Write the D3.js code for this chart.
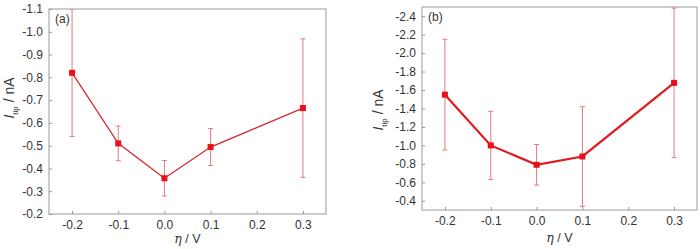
<!DOCTYPE html>
<html><head><meta charset="utf-8">
<script src="https://cdn.jsdelivr.net/npm/d3@7"></script>
<style>
html,body{margin:0;padding:0;background:#fff;}
svg{display:block;font-family:"Liberation Sans",Arial,sans-serif;}
</style></head>
<body><svg id="c" width="700" height="249"></svg>
<script>
const etaValues = [-0.2, -0.1, 0.0, 0.1, 0.3];
const currentA = [-0.82, -0.51, -0.357, -0.494, -0.665];
const errorA = [0.28, 0.076, 0.078, 0.081, 0.304];
const currentB = [-1.55, -1.0, -0.79, -0.88, -1.678];
const errorB = [0.6, 0.37, 0.22, 0.54, 0.81];
const xTicks = [-0.2, -0.1, 0.0, 0.1, 0.2, 0.3];
const yTicksA = [-1.1, -1.0, -0.9, -0.8, -0.7, -0.6, -0.5, -0.4, -0.3, -0.2];
const yTicksB = [-2.4, -2.2, -2.0, -1.8, -1.6, -1.4, -1.2, -1.0, -0.8, -0.6, -0.4];

const svg = d3.select("#c");
const fmt = d => (Math.abs(d) < 1e-9 ? 0 : d).toFixed(1);

function panel(cfg) {
  const x = d3.scaleLinear().domain([-0.25, 0.35]).range([cfg.left, cfg.right]);
  const y = d3.scaleLinear().domain(cfg.yDomain).range([cfg.bottom, cfg.top]);
  const g = svg.append("g");
  const clipId = "clip" + cfg.label;
  svg.append("clipPath").attr("id", clipId).append("rect")
    .attr("x", cfg.left).attr("y", cfg.top).attr("width", cfg.right - cfg.left).attr("height", cfg.bottom - cfg.top);

  const xa = g.append("g").attr("transform", `translate(0,${cfg.bottom})`)
    .call(d3.axisBottom(x).tickValues(xTicks).tickFormat(fmt).tickSizeInner(-3).tickSizeOuter(0).tickPadding(6));
  const ya = g.append("g").attr("transform", `translate(${cfg.left},0)`)
    .call(d3.axisLeft(y).tickValues(cfg.yTicks).tickFormat(fmt).tickSizeInner(-3).tickSizeOuter(0).tickPadding(6));
  [xa, ya].forEach(a => {
    a.select(".domain").remove();
    a.selectAll(".tick line").attr("stroke", "#999");
    a.selectAll(".tick text").attr("fill", "#333").style("font-size", "12px");
  });
  g.append("rect").attr("x", cfg.left).attr("y", cfg.top)
    .attr("width", cfg.right - cfg.left).attr("height", cfg.bottom - cfg.top)
    .attr("fill", "none").attr("stroke", "#9a9a9a").attr("stroke-width", 1);

  const data = etaValues.map((e, i) => ({e, v: cfg.values[i], err: cfg.errors[i]}));
  const plot = g.append("g").attr("clip-path", `url(#${clipId})`);
  const eb = plot.selectAll(".eb").data(data).enter().append("g").attr("stroke", "#e07c80").attr("stroke-width", 1);
  eb.append("line").attr("x1", d => x(d.e)).attr("x2", d => x(d.e))
    .attr("y1", d => y(d.v - d.err)).attr("y2", d => y(d.v + d.err));
  eb.append("line").attr("x1", d => x(d.e) - 2.5).attr("x2", d => x(d.e) + 2.5)
    .attr("y1", d => y(d.v - d.err)).attr("y2", d => y(d.v - d.err));
  eb.append("line").attr("x1", d => x(d.e) - 2.5).attr("x2", d => x(d.e) + 2.5)
    .attr("y1", d => y(d.v + d.err)).attr("y2", d => y(d.v + d.err));
  plot.append("path").datum(data)
    .attr("d", d3.line().x(d => x(d.e)).y(d => y(d.v)))
    .attr("fill", "none").attr("stroke", cfg.lineColor).attr("stroke-width", cfg.lineWidth);
  plot.selectAll(".m").data(data).enter().append("rect")
    .attr("x", d => x(d.e) - 3).attr("y", d => y(d.v) - 3)
    .attr("width", 6).attr("height", 6).attr("fill", "#e8101c");

  g.append("text").attr("x", cfg.left + 6).attr("y", cfg.top + 14)
    .attr("fill", "#333").style("font-size", "12px").text(`(${cfg.label})`);

  const xt = g.append("text").attr("x", (cfg.left + cfg.right) / 2).attr("y", cfg.xTitleY)
    .attr("text-anchor", "middle").attr("fill", "#333").style("font-size", "12.5px");
  xt.append("tspan").style("font-family", "'DejaVu Serif',serif").style("font-style", "italic").text("η");
  xt.append("tspan").text(" / V");

  const yt = g.append("text").attr("transform", `translate(${cfg.yTitleX},${cfg.yTitleY}) rotate(-90)`)
    .attr("text-anchor", "middle").attr("fill", "#333").style("font-size", "14px");
  yt.append("tspan").style("font-style", "italic").text("I");
  yt.append("tspan").attr("dy", 4).style("font-size", "8px").text("tip");
  yt.append("tspan").attr("dy", -4).text(" / nA");
}

panel({label: "a", left: 49, right: 326, top: 9, bottom: 214, yDomain: [-0.2, -1.1], yTicks: yTicksA,
  values: currentA, errors: errorA, lineColor: "#d42a30", lineWidth: 1.3,
  xTitleY: 243, yTitleX: 14, yTitleY: 98});
panel({label: "b", left: 422, right: 697, top: 7, bottom: 210, yDomain: [-0.3, -2.5], yTicks: yTicksB,
  values: currentB, errors: errorB, lineColor: "#e01a1e", lineWidth: 2.2,
  xTitleY: 242, yTitleX: 383, yTitleY: 110});
</script>
</body></html>
